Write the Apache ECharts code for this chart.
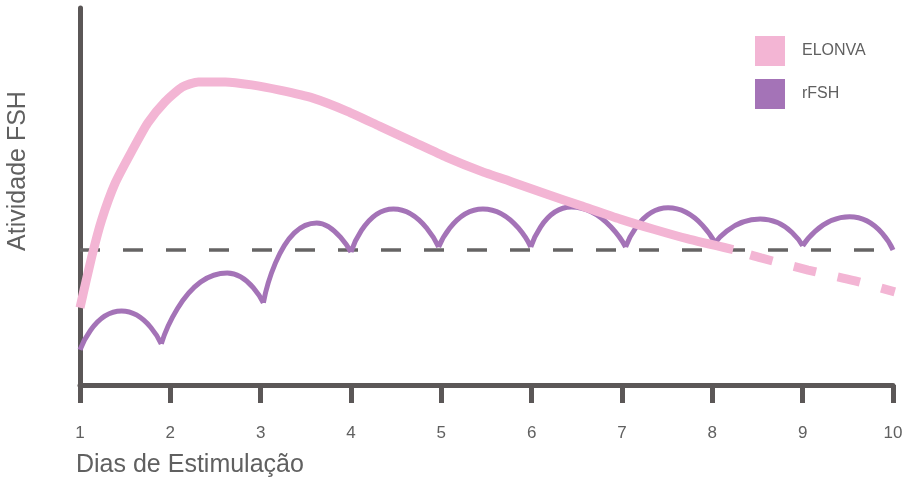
<!DOCTYPE html>
<html>
<head>
<meta charset="utf-8">
<script src="https://cdn.jsdelivr.net/npm/echarts@6/dist/echarts.min.js"></script>
<style>
  html, body { margin: 0; padding: 0; background: #ffffff; }
  #chart { width: 914px; height: 479px; }
</style>
</head>
<body>
<div id="chart"></div>
<script>
// ELONVA activity (solid part of the curve)
const elonvaDias = [1.00, 1.13, 1.24, 1.39, 1.58, 1.75, 1.94, 2.13, 2.31, 2.61, 2.90, 3.21, 3.58, 3.96, 4.32, 4.69, 5.06, 5.43, 5.79, 6.17, 6.54, 6.98, 7.35, 7.72, 8.23];
const elonvaAtividade = [20.5, 34.0, 43.8, 53.6, 62.3, 69.5, 75.1, 79.0, 80.4, 80.4, 79.6, 78.2, 76.1, 72.6, 68.6, 64.5, 60.4, 56.8, 53.8, 50.6, 47.6, 44.0, 41.3, 38.8, 35.9];

// ELONVA activity, dashed tail
const elonvaCaudaDias = [8.23, 8.54, 9.06, 9.58, 10.02];
const elonvaCaudaAtividade = [35.9, 33.7, 30.5, 27.6, 24.7];

// rFSH daily injections: dip, peak, dip for each dose; null separates the arcs
const rfshDias = [
  1.00, 1.46, 1.90, null,
  1.90, 2.63, 3.03, null,
  3.03, 3.62, 4.00, null,
  4.00, 4.47, 4.97, null,
  4.97, 5.46, 5.99, null,
  5.99, 6.44, 7.04, null,
  7.04, 7.51, 8.03, null,
  8.03, 8.53, 9.00, null,
  9.00, 9.52, 10.00
];
const rfshAtividade = [
  9.3, 19.6, 10.9, null,
  10.9, 29.7, 21.8, null,
  21.8, 43.0, 35.3, null,
  35.3, 46.7, 36.6, null,
  36.6, 46.7, 36.6, null,
  36.6, 47.2, 36.6, null,
  36.6, 47.0, 37.7, null,
  37.7, 44.0, 36.9, null,
  36.9, 44.6, 35.8
];

// reference level (dashed gray line)
const limiar = 35.8;
const limiarDias = [1, 10];

const pares = (xs, ys) => xs.map((x, i) => (x === null ? [null, null] : [x, ys[i]]));

const rosa = '#f3b5d4';
const roxo = '#a473b7';
const cinza = '#5b5757';
const texto = '#606060';
const fonte = '"Liberation Sans", Arial, Helvetica, sans-serif';

const chart = echarts.init(document.getElementById('chart'), null, { renderer: 'canvas' });

chart.setOption({
  animation: false,
  backgroundColor: '#ffffff',
  textStyle: { fontFamily: fonte },
  grid: { left: 80, right: 21, top: 8, bottom: 94, containLabel: false },
  legend: {
    data: ['ELONVA', 'rFSH'],
    orient: 'vertical',
    left: 755,
    top: 36,
    padding: 0,
    itemWidth: 30,
    itemHeight: 30,
    itemGap: 13,
    icon: 'rect',
    textStyle: { color: texto, fontSize: 16, fontFamily: fonte, padding: [2, 0, 0, 12] },
    selectedMode: false
  },
  xAxis: {
    type: 'value',
    min: 1,
    max: 10,
    interval: 1,
    axisLine: { show: true, onZero: false, lineStyle: { color: cinza, width: 5 } },
    axisTick: { show: true, inside: false, length: 18, lineStyle: { color: cinza, width: 5 } },
    axisLabel: { color: texto, fontSize: 17, margin: 40, fontFamily: fonte },
    splitLine: { show: false }
  },
  yAxis: {
    type: 'value',
    min: 0,
    max: 100,
    axisLine: { show: true, onZero: false, lineStyle: { color: cinza, width: 5 } },
    axisTick: { show: false },
    axisLabel: { show: false },
    splitLine: { show: false }
  },
  graphic: [
    {
      type: 'text',
      x: 18,
      y: 171,
      rotation: Math.PI / 2,
      style: {
        text: 'Atividade FSH',
        fill: texto,
        font: '25px ' + fonte,
        align: 'center',
        verticalAlign: 'middle'
      }
    },
    {
      type: 'text',
      x: 76,
      y: 465,
      style: {
        text: 'Dias de Estimulação',
        fill: texto,
        font: '25px ' + fonte,
        align: 'left',
        verticalAlign: 'middle'
      }
    }
  ],
  series: [
    {
      name: 'limiar',
      type: 'line',
      data: pares(limiarDias, [limiar, limiar]),
      symbol: 'none',
      silent: true,
      lineStyle: { color: '#666464', width: 3.5, type: [20, 23] },
      z: 1
    },
    {
      name: 'rFSH',
      type: 'line',
      data: pares(rfshDias, rfshAtividade),
      symbol: 'none',
      smooth: 0.65,
      connectNulls: false,
      clip: false,
      itemStyle: { color: roxo },
      lineStyle: { color: roxo, width: 5, join: 'miter', miterLimit: 20 },
      z: 2
    },
    {
      name: 'ELONVA',
      type: 'line',
      data: pares(elonvaDias, elonvaAtividade),
      symbol: 'none',
      smooth: 0.2,
      itemStyle: { color: rosa },
      lineStyle: { color: rosa, width: 9, cap: 'butt', join: 'round' },
      z: 3
    },
    {
      name: 'ELONVA',
      type: 'line',
      data: pares(elonvaCaudaDias, elonvaCaudaAtividade),
      symbol: 'none',
      smooth: 0.3,
      clip: false,
      itemStyle: { color: rosa },
      lineStyle: { color: rosa, width: 9, type: [23, 22], dashOffset: 27, cap: 'butt' },
      z: 3
    }
  ]
});
</script>
</body>
</html>
